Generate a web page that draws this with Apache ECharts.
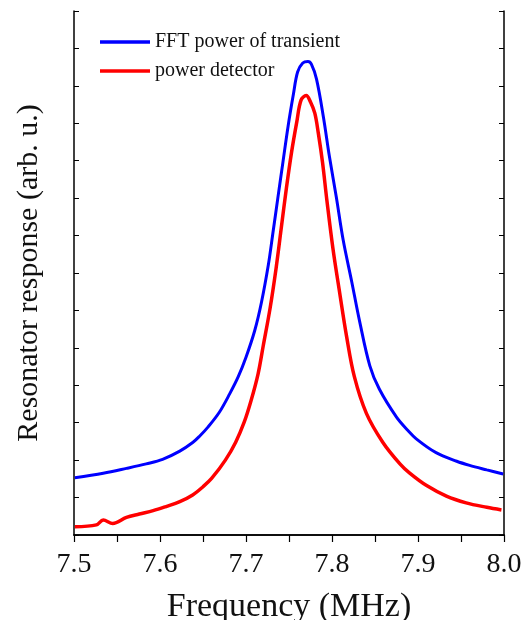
<!DOCTYPE html>
<html>
<head>
<meta charset="utf-8">
<script src="https://cdn.jsdelivr.net/npm/echarts@6/dist/echarts.min.js"></script>
<style>
  html, body { margin: 0; padding: 0; background: #fff; }
  #main { width: 526px; height: 620px; }
</style>
</head>
<body>
<div id="main"></div>
<script>
// frequency (MHz) and response (arb. u.)
var fftFreq = [7.501, 7.534, 7.561, 7.584, 7.603, 7.623, 7.638, 7.646, 7.656, 7.669, 7.681, 7.691, 7.700, 7.710, 7.718, 7.726, 7.731, 7.737, 7.743, 7.749, 7.755, 7.760, 7.766, 7.772, 7.776, 7.782, 7.790, 7.797, 7.805, 7.813, 7.823, 7.832, 7.844, 7.855, 7.875, 7.888, 7.898, 7.921, 7.945, 7.960, 7.980, 7.999];
var fftVal = [1.53, 1.65, 1.78, 1.90, 2.02, 2.24, 2.47, 2.64, 2.89, 3.28, 3.77, 4.23, 4.75, 5.45, 6.22, 7.22, 8.02, 9.00, 9.97, 10.93, 11.76, 12.37, 12.61, 12.65, 12.58, 12.18, 11.17, 10.11, 9.03, 7.88, 6.76, 5.72, 4.52, 3.90, 3.15, 2.80, 2.57, 2.20, 1.97, 1.86, 1.74, 1.63];

var detFreq = [7.501, 7.526, 7.534, 7.545, 7.561, 7.576, 7.592, 7.607, 7.623, 7.638, 7.650, 7.660, 7.676, 7.688, 7.698, 7.706, 7.714, 7.720, 7.728, 7.735, 7.741, 7.747, 7.753, 7.759, 7.764, 7.770, 7.775, 7.780, 7.784, 7.789, 7.794, 7.801, 7.809, 7.817, 7.826, 7.840, 7.859, 7.879, 7.890, 7.910, 7.933, 7.956, 7.980, 7.997];
var detVal = [0.22, 0.27, 0.40, 0.31, 0.47, 0.56, 0.65, 0.76, 0.89, 1.07, 1.29, 1.51, 2.00, 2.48, 3.02, 3.60, 4.30, 5.05, 6.06, 7.13, 8.20, 9.27, 10.23, 11.03, 11.62, 11.74, 11.57, 11.27, 10.75, 9.95, 8.95, 7.67, 6.46, 5.30, 4.23, 3.25, 2.48, 1.90, 1.66, 1.32, 1.04, 0.86, 0.74, 0.67];

var seriesNames = ['FFT power of transient', 'power detector'];
var xTicks = ['7.5', '7.6', '7.7', '7.8', '7.9', '8.0'];

function zip(xs, ys) {
  return xs.map(function (x, i) { return [x, ys[i]]; });
}

var chart = echarts.init(document.getElementById('main'), null, { renderer: 'canvas' });

var serif = '"Liberation Serif", "DejaVu Serif", serif';
var axisLine = { show: true, lineStyle: { color: '#000', width: 1.5 } };

var option = {
  backgroundColor: '#ffffff',
  animation: false,
  grid: { left: 74, right: 22, top: 11, bottom: 85, outerBoundsMode: 'none', containLabel: false },
  legend: {
    orient: 'vertical',
    left: 95,
    top: 27,
    icon: 'rect',
    itemWidth: 50,
    itemHeight: 3.5,
    itemGap: 9,
    data: seriesNames,
    textStyle: { fontFamily: serif, fontSize: 20, color: '#111', lineHeight: 20 }
  },
  xAxis: [{
    type: 'value',
    min: 7.5,
    max: 8.0,
    interval: 0.1,
    name: 'Frequency (MHz)',
    nameLocation: 'middle',
    nameGap: 55,
    nameTextStyle: { fontFamily: serif, fontSize: 34, color: '#111' },
    axisLine: axisLine,
    axisTick: { show: true, inside: false, length: 7, lineStyle: { color: '#000', width: 1.2 } },
    minorTick: { show: true, splitNumber: 2, length: 7, lineStyle: { color: '#000', width: 1.2 } },
    axisLabel: {
      fontFamily: serif, fontSize: 28, color: '#111', margin: 16,
      formatter: function (v) { return xTicks[Math.round((v - 7.5) * 10)]; }
    },
    splitLine: { show: false }
  }, {
    type: 'value',
    position: 'top',
    min: 7.5,
    max: 8.0,
    interval: 0.1,
    axisLine: axisLine,
    axisTick: { show: true, inside: true, length: 5, lineStyle: { color: '#000', width: 1 } },
    minorTick: { show: true, splitNumber: 2, length: 5, lineStyle: { color: '#000', width: 1 } },
    axisLabel: { show: false },
    splitLine: { show: false }
  }],
  yAxis: [{
    type: 'value',
    min: 0,
    max: 14,
    interval: 1,
    name: 'Resonator response (arb. u.)',
    nameLocation: 'middle',
    nameGap: 30,
    nameTextStyle: { fontFamily: serif, fontSize: 30, color: '#111' },
    axisLine: axisLine,
    axisTick: { show: true, inside: true, length: 5, lineStyle: { color: '#000', width: 1 } },
    axisLabel: { show: false },
    splitLine: { show: false }
  }, {
    type: 'value',
    position: 'right',
    min: 0,
    max: 14,
    interval: 1,
    axisLine: axisLine,
    axisTick: { show: true, inside: true, length: 5, lineStyle: { color: '#000', width: 1 } },
    axisLabel: { show: false },
    splitLine: { show: false }
  }],
  series: [{
    name: seriesNames[0],
    type: 'line',
    symbol: 'none',
    smooth: 0.35,
    color: '#0000ff',
    lineStyle: { color: '#0000ff', width: 3 },
    data: zip(fftFreq, fftVal)
  }, {
    name: seriesNames[1],
    type: 'line',
    symbol: 'none',
    smooth: 0.35,
    color: '#ff0000',
    lineStyle: { color: '#ff0000', width: 3.5 },
    data: zip(detFreq, detVal)
  }]
};

chart.setOption(option);
</script>
</body>
</html>
